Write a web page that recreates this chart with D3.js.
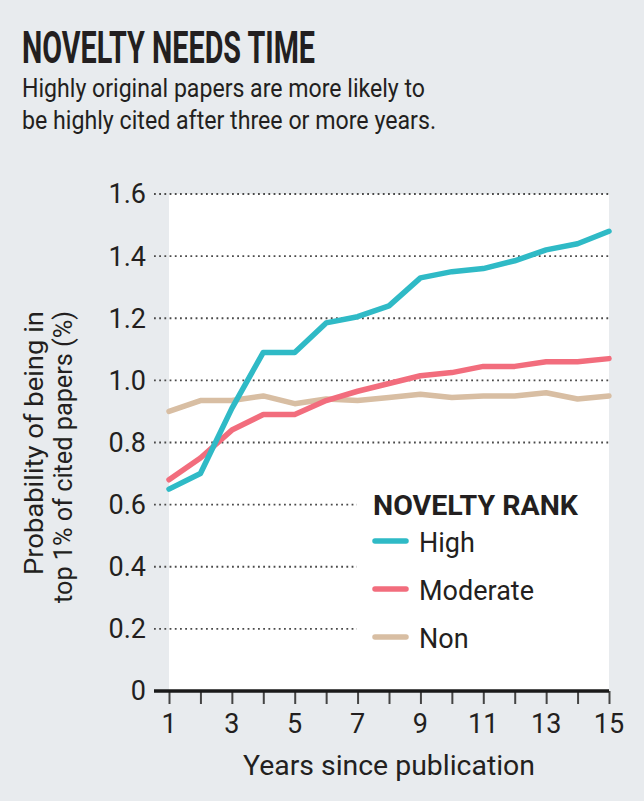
<!DOCTYPE html>
<html>
<head>
<meta charset="utf-8">
<script src="https://cdn.jsdelivr.net/npm/d3@7"></script>
<style>
  body { margin: 0; background: #e8ebee; }
  svg { display: block; }
  text { fill: #231f20; font-family: 'Liberation Sans Narrow', 'Roboto', sans-serif; }
</style>
</head>
<body>
<div id="chart"></div>
<script>
// chart values
const years = [1, 2, 3, 4, 5, 6, 7, 8, 9, 10, 11, 12, 13, 14, 15]
const high = [0.65, 0.70, 0.91, 1.09, 1.09, 1.185, 1.205, 1.24, 1.33, 1.35, 1.36, 1.385, 1.42, 1.44, 1.48]
const moderate = [0.68, 0.75, 0.84, 0.89, 0.89, 0.935, 0.965, 0.99, 1.015, 1.025, 1.045, 1.045, 1.06, 1.06, 1.07]
const non = [0.90, 0.935, 0.935, 0.95, 0.925, 0.94, 0.935, 0.945, 0.955, 0.945, 0.95, 0.95, 0.96, 0.94, 0.95]
const yTicks = [0, 0.2, 0.4, 0.6, 0.8, 1.0, 1.2, 1.4, 1.6]
const xLabels = [1, 3, 5, 7, 9, 11, 13, 15]
const seriesNames = ['High', 'Moderate', 'Non']
const seriesColors = ['#2fbac6', '#f26d7d', '#d8bea3']

const W = 644
const H = 801
const margin = { top: 194, right: 35, bottom: 110, left: 169 }
const width = W - margin.left - margin.right
const height = H - margin.top - margin.bottom

const svg = d3.select('#chart')
  .append('svg')
  .attr('width', W)
  .attr('height', H)

// title and subtitle
svg.append('text')
  .attr('x', 22)
  .attr('y', 63)
  .attr('textLength', 293)
  .attr('lengthAdjust', 'spacingAndGlyphs')
  .style('font-size', '45px')
  .style('font-weight', 'bold')
  .text('NOVELTY NEEDS TIME')

const subtitle = ['Highly original papers are more likely to', 'be highly cited after three or more years.']
const subWidths = [403, 414]
subtitle.forEach((line, i) => {
  svg.append('text')
    .attr('x', 22)
    .attr('y', 97 + i * 32)
    .attr('textLength', subWidths[i])
    .attr('lengthAdjust', 'spacingAndGlyphs')
    .style('font-size', '25px')
    .text(line)
})

const g = svg.append('g')
  .attr('transform', `translate(${margin.left}, ${margin.top})`)

const x = d3.scaleLinear()
  .domain([1, 15])
  .range([0, width])

const y = d3.scaleLinear()
  .domain([0, 1.6])
  .range([height, 0])

// white plot panel
g.append('rect')
  .attr('x', 0)
  .attr('y', 0)
  .attr('width', width)
  .attr('height', height)
  .style('fill', '#ffffff')

// dotted gridlines, the lower ones stop before the legend
g.append('g')
  .selectAll('line')
  .data(yTicks.filter(d => d > 0))
  .join('line')
  .attr('x1', -15)
  .attr('x2', d => d < 0.7 ? 188 : width)
  .attr('y1', d => y(d))
  .attr('y2', d => y(d))
  .style('stroke', '#4a4a4a')
  .style('stroke-width', 1.8)
  .style('stroke-dasharray', '1.8,3.4')

// y tick labels
g.append('g')
  .selectAll('text')
  .data(yTicks)
  .join('text')
  .attr('x', -23)
  .attr('y', d => y(d))
  .attr('dy', '0.35em')
  .attr('text-anchor', 'end')
  .style('font-size', '27px')
  .text(d => d === 0 ? '0' : d.toFixed(1))

// x axis
const xAxis = g.append('g')
  .attr('transform', `translate(0, ${height})`)
  .call(d3.axisBottom(x).tickValues(years).tickSize(13).tickFormat(''))
xAxis.select('.domain').remove()
xAxis.selectAll('line').style('stroke', '#444').style('stroke-width', 2)

g.append('line')
  .attr('x1', -15)
  .attr('x2', width)
  .attr('y1', height)
  .attr('y2', height)
  .style('stroke', '#1a1a1a')
  .style('stroke-width', 3.5)

g.append('g')
  .selectAll('text')
  .data(xLabels)
  .join('text')
  .attr('x', d => x(d))
  .attr('y', height + 42)
  .attr('text-anchor', 'middle')
  .style('font-size', '27px')
  .text(d => d)

// axis titles
g.append('text')
  .attr('x', x(8) - 146)
  .attr('y', height + 84)
  .attr('textLength', 292)
  .attr('lengthAdjust', 'spacingAndGlyphs')
  .style('font-size', '27px')
  .text('Years since publication')

const yTitle = ['Probability of being in', 'top 1% of cited papers (%)']
const yTitleWidths = [264, 292]
yTitle.forEach((line, i) => {
  g.append('text')
    .attr('transform', `translate(${-126 + i * 29}, ${117 + yTitleWidths[i]}) rotate(-90)`)
    .attr('textLength', yTitleWidths[i])
    .attr('lengthAdjust', 'spacingAndGlyphs')
    .style('font-size', '25px')
    .text(line)
})

// lines
const series = [high, moderate, non]
const line = d3.line()
  .x((d, i) => x(years[i]))
  .y(d => y(d))

// draw Non first so High sits on top
g.append('g')
  .selectAll('path')
  .data(series.map((s, i) => ({ values: s, color: seriesColors[i] })).reverse())
  .join('path')
  .attr('d', d => line(d.values))
  .style('fill', 'none')
  .style('stroke', d => d.color)
  .style('stroke-width', 5.5)
  .style('stroke-linejoin', 'round')
  .style('stroke-linecap', 'round')

// legend
const legend = svg.append('g')
  .attr('transform', 'translate(373, 515)')

legend.append('text')
  .attr('x', 0)
  .attr('y', 0)
  .attr('textLength', 205)
  .attr('lengthAdjust', 'spacingAndGlyphs')
  .style('font-size', '28px')
  .style('font-weight', 'bold')
  .text('NOVELTY RANK')

seriesNames.forEach((name, i) => {
  legend.append('line')
    .attr('x1', 2)
    .attr('x2', 33)
    .attr('y1', 26 + i * 48)
    .attr('y2', 26 + i * 48)
    .style('stroke', seriesColors[i])
    .style('stroke-width', 5.5)
    .style('stroke-linecap', 'round')
  legend.append('text')
    .attr('x', 46)
    .attr('y', 37 + i * 48)
    .style('font-size', '27px')
    .text(name)
})
</script>
</body>
</html>
